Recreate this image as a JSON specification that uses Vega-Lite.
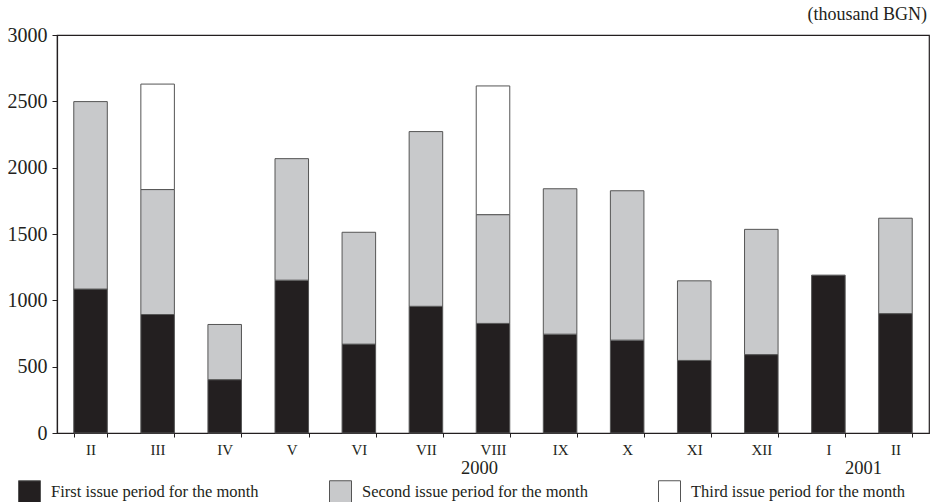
{
  "$schema": "https://vega.github.io/schema/vega-lite/v6.json",
  "autosize": "none",
  "width": 872,
  "height": 398,
  "padding": {"left": 57, "top": 35, "right": 2, "bottom": 69},
  "background": "white",
  "config": {
    "font": "Liberation Serif",
    "view": {"stroke": "#231f20", "strokeWidth": 1.2},
    "style": {"guide-label": {"font": "Liberation Serif", "fill": "#231f20"}, "guide-title": {"font": "Liberation Serif"}},
    "axis": {"labelFont": "Liberation Serif", "labelColor": "#231f20", "domainColor": "#231f20", "tickColor": "#231f20", "grid": false},
    "legend": {"labelFont": "Liberation Serif"},
    "text": {"font": "Liberation Serif"}
  },
  "title": {"text": "(thousand BGN)", "anchor": "end", "fontSize": 18, "fontWeight": "normal", "font": "Liberation Serif", "color": "#231f20", "offset": 1, "dx": -2},
  "datasets": {
    "bars": [
      {"m": "II-2000", "p": "First issue period for the month", "v": 1085},
      {"m": "II-2000", "p": "Second issue period for the month", "v": 1413},
      {"m": "III-2000", "p": "First issue period for the month", "v": 893},
      {"m": "III-2000", "p": "Second issue period for the month", "v": 942},
      {"m": "III-2000", "p": "Third issue period for the month", "v": 795},
      {"m": "IV-2000", "p": "First issue period for the month", "v": 402},
      {"m": "IV-2000", "p": "Second issue period for the month", "v": 416},
      {"m": "V-2000", "p": "First issue period for the month", "v": 1152},
      {"m": "V-2000", "p": "Second issue period for the month", "v": 916},
      {"m": "VI-2000", "p": "First issue period for the month", "v": 670},
      {"m": "VI-2000", "p": "Second issue period for the month", "v": 843},
      {"m": "VII-2000", "p": "First issue period for the month", "v": 955},
      {"m": "VII-2000", "p": "Second issue period for the month", "v": 1317},
      {"m": "VIII-2000", "p": "First issue period for the month", "v": 826},
      {"m": "VIII-2000", "p": "Second issue period for the month", "v": 820},
      {"m": "VIII-2000", "p": "Third issue period for the month", "v": 970},
      {"m": "IX-2000", "p": "First issue period for the month", "v": 745},
      {"m": "IX-2000", "p": "Second issue period for the month", "v": 1096},
      {"m": "X-2000", "p": "First issue period for the month", "v": 700},
      {"m": "X-2000", "p": "Second issue period for the month", "v": 1126},
      {"m": "XI-2000", "p": "First issue period for the month", "v": 547},
      {"m": "XI-2000", "p": "Second issue period for the month", "v": 600},
      {"m": "XII-2000", "p": "First issue period for the month", "v": 591},
      {"m": "XII-2000", "p": "Second issue period for the month", "v": 944},
      {"m": "I-2001", "p": "First issue period for the month", "v": 1190},
      {"m": "II-2001", "p": "First issue period for the month", "v": 900},
      {"m": "II-2001", "p": "Second issue period for the month", "v": 719}
    ]
  },
  "layer": [
    {
      "data": {"name": "bars"},
      "mark": {"type": "bar", "stroke": "#555555", "strokeWidth": 1},
      "encoding": {
        "x": {
          "field": "m", "type": "nominal",
          "scale": {"domain": ["II-2000","III-2000","IV-2000","V-2000","VI-2000","VII-2000","VIII-2000","IX-2000","X-2000","XI-2000","XII-2000","I-2001","II-2001"], "paddingInner": 0.5, "paddingOuter": 0.25},
          "axis": {"title": null, "labelExpr": "isString(datum.value) ? split(datum.value, '-')[0] : ''", "labelAngle": 0, "labelFont": "Liberation Serif", "labelFontSize": 15, "labelPadding": 5, "tickBand": "extent", "tickSize": 4, "domainWidth": 1.2}
        },
        "y": {
          "field": "v", "type": "quantitative", "aggregate": "sum", "stack": "zero",
          "scale": {"domain": [0, 3000], "nice": false},
          "axis": {"title": null, "values": [0,500,1000,1500,2000,2500,3000], "format": "d", "labelFont": "Liberation Serif", "labelFontSize": 20, "tickSize": 5, "labelPadding": 5, "domainWidth": 1.2}
        },
        "color": {
          "field": "p", "type": "nominal",
          "scale": {"domain": ["First issue period for the month","Second issue period for the month","Third issue period for the month"], "range": ["#231f20","#c8c9cb","#ffffff"]},
          "legend": {
            "title": null, "orient": "none", "legendX": -39, "legendY": 445,
            "direction": "horizontal", "columns": 3, "columnPadding": 68,
            "symbolType": "square", "symbolSize": 484, "symbolStrokeColor": "#555555", "symbolStrokeWidth": 1,
            "labelFont": "Liberation Serif", "labelFontSize": 16.5, "labelColor": "#231f20", "labelOffset": 10, "labelLimit": 400
          }
        },
        "order": {"field": "p", "sort": "ascending"}
      }
    },
    {
      "data": {"values": [{"m": "VIII-2000", "t": "2000"}]},
      "mark": {"type": "text", "fontSize": 18.5, "font": "Liberation Serif", "color": "#231f20", "dy": 35},
      "encoding": {
        "x": {"field": "m", "type": "nominal", "bandPosition": 0.1},
        "y": {"datum": 0, "type": "quantitative"},
        "text": {"field": "t"}
      }
    },
    {
      "data": {"values": [{"m": "I-2001", "t": "2001"}]},
      "mark": {"type": "text", "fontSize": 18.5, "font": "Liberation Serif", "color": "#231f20", "dy": 35},
      "encoding": {
        "x": {"field": "m", "type": "nominal", "bandPosition": 1.55},
        "y": {"datum": 0, "type": "quantitative"},
        "text": {"field": "t"}
      }
    }
  ]
}
